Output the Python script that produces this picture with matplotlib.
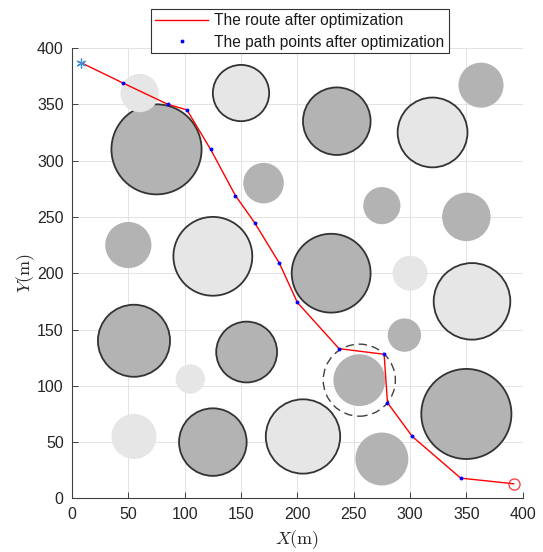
import matplotlib
matplotlib.use("Agg")
import matplotlib.pyplot as plt
from matplotlib.patches import Circle

plt.rcParams['font.family'] = ['Liberation Sans', 'DejaVu Sans']
plt.rcParams['mathtext.fontset'] = 'cm'

# obstacles: dark grey with outline
dark_edge_x = [75, 235, 230, 55, 155, 125, 350]
dark_edge_y = [310, 335, 200, 140, 130, 50, 75]
dark_edge_r = [40, 30, 35, 32, 27, 30, 40]

# obstacles: dark grey, no outline
dark_x = [363, 170, 275, 350, 50, 295, 255, 275]
dark_y = [367, 280, 260, 250, 225, 145, 105, 35]
dark_r = [20, 18, 16.5, 21.5, 20.5, 14.8, 23, 23.5]

# obstacles: light grey with outline
light_edge_x = [150, 320, 125, 355, 205]
light_edge_y = [360, 325, 215, 175, 55]
light_edge_r = [25, 31, 35, 34, 33]

# obstacles: light grey, no outline
light_x = [60, 300, 105, 55]
light_y = [360, 200, 106, 55]
light_r = [17, 15.5, 13, 20]

# dashed safety circle
ring_x, ring_y, ring_r = 255, 105, 32

# optimized path
path_x = [8, 45, 85, 102, 123, 145, 162, 184, 200, 237, 277, 280, 302, 345, 392]
path_y = [387, 369, 350, 345, 310, 269, 245, 209, 174, 133, 128, 85, 55, 18, 13]

fig = plt.figure(figsize=(5.43, 5.52), dpi=100)
ax = fig.add_axes([72 / 543, (552 - 498.4) / 552, 450.7 / 543, 450.4 / 552])

for xs, ys, rs, face, edged in [
        (dark_edge_x, dark_edge_y, dark_edge_r, '#b3b3b3', True),
        (dark_x, dark_y, dark_r, '#b3b3b3', False),
        (light_edge_x, light_edge_y, light_edge_r, '#e6e6e6', True),
        (light_x, light_y, light_r, '#e6e6e6', False)]:
    for cx, cy, r in zip(xs, ys, rs):
        if edged:
            c = Circle((cx, cy), r, facecolor=face, edgecolor='#333333', linewidth=1.3, zorder=2)
        else:
            c = Circle((cx, cy), r, facecolor=face, edgecolor='none', zorder=2)
        ax.add_patch(c)

ax.add_patch(Circle((ring_x, ring_y), ring_r, facecolor='none', edgecolor='#404040',
                    linewidth=1.0, linestyle=(0, (6, 3.5)), zorder=3))

ax.plot(path_x, path_y, color='#ff0000', linewidth=1.0, zorder=4,
        label='The route after optimization')
ax.plot(path_x[1:-1], path_y[1:-1], linestyle='none', marker='o', markersize=2.8,
        color='#0000ff', markeredgewidth=0, zorder=5,
        label='The path points after optimization')
ax.plot(path_x[0], path_y[0], linestyle='none', marker=(6, 2, 0), markersize=7,
        color='#3d8fd8', markeredgewidth=0.9, zorder=6)
ax.plot(path_x[-1], path_y[-1], linestyle='none', marker='o', markersize=8,
        markerfacecolor='none', markeredgecolor='#ff3333', markeredgewidth=0.9, zorder=6)

ax.set_xlim(0, 400)
ax.set_ylim(0, 400)
ax.set_xticks(range(0, 401, 50))
ax.set_yticks(range(0, 401, 50))
ax.set_axisbelow(True)
ax.grid(True, color='#e3e3e3', linewidth=0.7)
for s in ['top', 'right']:
    ax.spines[s].set_visible(False)
for s in ['left', 'bottom']:
    ax.spines[s].set_color('#404040')
    ax.spines[s].set_linewidth(0.8)
ax.tick_params(direction='in', length=4, width=0.7, color='#404040',
               labelsize=11.5, labelcolor='#262626', pad=6)

ax.set_xlabel(r'$X\mathrm{(m)}$', fontsize=13, color='#262626', labelpad=5)
ax.set_ylabel(r'$Y\mathrm{(m)}$', fontsize=13, color='#262626', labelpad=0)

leg = ax.legend(loc='lower center', bbox_to_anchor=(0.506, 0.988), fontsize=11.2,
                frameon=True, fancybox=False, framealpha=1, edgecolor='#333333',
                handlelength=3.4, handletextpad=0.4, labelspacing=0.4,
                borderpad=0.25, borderaxespad=0)
leg.get_frame().set_linewidth(0.8)
for t in leg.get_texts():
    t.set_color('#1a1a1a')

fig.savefig('out.png', dpi=100)
